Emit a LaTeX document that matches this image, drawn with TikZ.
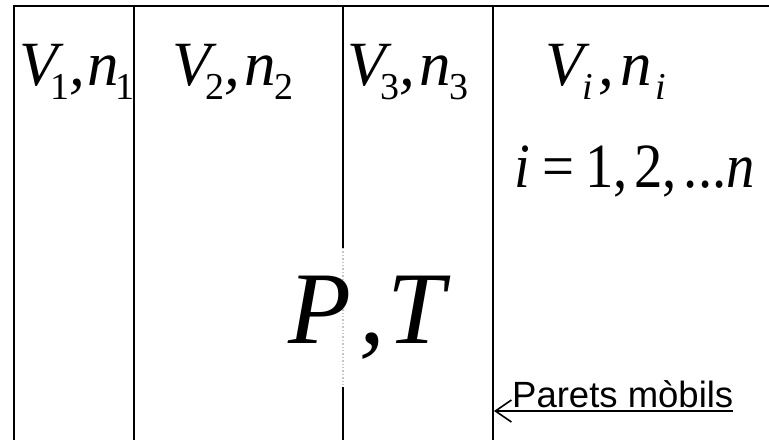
\documentclass[tikz,border=0pt]{standalone}
\usepackage{fontspec}
\setmainfont{Liberation Serif}
\newfontfamily\notefont{Liberation Sans}
\usetikzlibrary{arrows.meta}
% lowered index in text fonts
\newcommand\lsub[1]{\raisebox{-14pt}{\fontsize{38}{40}\selectfont #1}}
\newcommand\vnpair[1]{V\kern-5pt\lsub{\upshape #1},\kern4pt n\kern-1pt\lsub{\upshape #1}}
\tikzset{
  wall/.style={line width=2.8pt},
  hiddenwall/.style={line width=1.4pt, gray!45, dotted},
  varlabel/.style={anchor=base west, inner sep=0pt, font=\fontsize{63}{70}\selectfont\itshape},
  rangelabel/.style={anchor=base west, inner sep=0pt, font=\fontsize{63}{70}\selectfont},
  statelabel/.style={anchor=base west, inner sep=0pt, font=\fontsize{103}{110}\selectfont\itshape},
  notelabel/.style={anchor=base west, inner sep=0pt, font=\notefont\fontsize{36.5}{40}\selectfont},
  pointer/.style={-{Straight Barb[length=16pt,width=22pt]}, line width=1.6pt}
}
\begin{document}
\begin{tikzpicture}[x=1pt, y=-1pt]
\useasboundingbox (0,0) rectangle (769,440);

% container and moving walls
\draw[wall] (769,6) -- (14,6) -- (14,440);
\draw[wall] (134,6) -- (134,440);
\draw[wall] (343,6) -- (343,248);
\draw[hiddenwall] (343,248) -- (343,387);
\draw[wall] (343,387) -- (343,440);
\draw[wall] (493,6) -- (493,440);

% compartments
\node[varlabel] (gas1) at (19,85) {V\kern-7pt\lsub{\upshape 1},\kern2pt n\kern-3pt\lsub{\upshape 1}};
\node[varlabel] (gas2) at (172,85) {\vnpair{2}};
\node[varlabel] (gas3) at (347,85) {\vnpair{3}};
\node[varlabel] (gasi) at (545,85) {V\kern-1pt\lsub{i}\kern5pt,\kern7pt n\kern3pt\lsub{i}};
\node[rangelabel] (range) at (514,187) {\scalebox{0.9}[1]{\textit{i}\kern14pt=\kern12pt1,\kern7pt2,\kern8pt...\textit{n}}};
\node[statelabel] (state) at (288,343) {P\kern8pt,\kern3pt T};

% note on the walls
\node[notelabel] (parets) at (512,407) {Parets mòbils};
\coordinate (ulend) at (733,411);
\coordinate (tip) at (494,411);
\draw[pointer] (ulend) -- (tip);
\end{tikzpicture}
\end{document}
